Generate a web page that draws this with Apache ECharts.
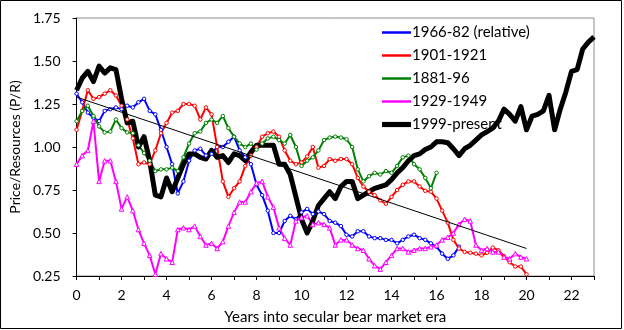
<!DOCTYPE html>
<html>
<head>
<meta charset="utf-8">
<script src="https://cdn.jsdelivr.net/npm/echarts@6/dist/echarts.min.js"></script>
<style>
html,body{margin:0;padding:0;background:#fff;}
#c{width:624px;height:330px;}
</style>
</head>
<body>
<div id="c"></div>
<script>
// Years into era (quarterly steps)
const STEP = 0.25;

const blue1966 = [1.31,1.26,1.20,1.17,1.15,1.21,1.22,1.23,1.22,1.24,1.23,1.26,1.28,1.21,1.19,1.10,
  1.00,0.90,0.73,0.80,0.92,0.98,0.99,0.95,0.96,1.00,1.00,1.03,1.06,0.98,0.94,0.90,
  0.78,0.72,0.63,0.50,0.50,0.57,0.60,0.58,0.62,0.64,0.61,0.625,0.61,0.57,0.56,0.54,
  0.49,0.48,0.51,0.51,0.48,0.47,0.47,0.46,0.46,0.44,0.46,0.48,0.49,0.47,0.46,0.44,
  0.42,0.38,0.35,0.37,0.42];

const red1901 = [1.10,1.21,1.33,1.28,1.29,1.31,1.33,1.30,1.24,1.16,1.05,0.90,0.91,0.90,0.98,1.08,
  1.14,1.20,1.21,1.25,1.25,1.24,1.16,1.23,1.19,1.00,0.80,0.71,0.76,0.80,0.89,0.95,
  1.00,1.06,1.08,1.09,1.06,0.98,0.92,0.90,0.91,0.945,1.00,0.88,0.89,0.93,0.92,0.93,
  0.93,0.90,0.82,0.77,0.74,0.72,0.69,0.67,0.71,0.75,0.78,0.80,0.80,0.77,0.745,0.74,
  0.70,0.63,0.56,0.46,0.41,0.39,0.385,0.38,0.37,0.385,0.415,0.40,0.365,0.33,0.305,0.305,0.26];

const green1881 = [1.15,1.21,1.24,1.18,1.12,1.085,1.09,1.16,1.11,1.085,1.08,1.01,0.965,0.92,0.86,0.87,
  0.87,0.88,0.86,0.94,1.02,1.08,1.09,1.14,1.16,1.14,1.18,1.11,1.06,1.02,1.00,1.02,
  0.985,1.02,1.05,1.06,1.04,1.02,1.07,1.00,0.89,0.92,0.94,0.98,1.04,1.055,1.06,1.055,
  1.045,1.00,0.87,0.80,0.83,0.85,0.84,0.86,0.85,0.89,0.94,0.95,0.90,0.87,0.82,0.76,0.85];

const magenta1929 = [0.90,0.95,0.98,1.15,0.80,0.92,0.92,0.80,0.64,0.71,0.63,0.52,0.44,0.37,0.26,0.38,
  0.35,0.33,0.52,0.53,0.52,0.54,0.48,0.43,0.44,0.41,0.45,0.54,0.62,0.68,0.68,0.74,
  0.79,0.80,0.71,0.65,0.53,0.47,0.43,0.57,0.59,0.60,0.55,0.56,0.55,0.53,0.43,0.46,
  0.46,0.43,0.41,0.40,0.35,0.31,0.29,0.33,0.37,0.41,0.41,0.39,0.40,0.41,0.41,0.42,
  0.43,0.46,0.475,0.50,0.55,0.58,0.57,0.43,0.40,0.41,0.39,0.39,0.36,0.35,0.38,0.36,0.35];

const black1999 = [1.33,1.40,1.44,1.38,1.47,1.43,1.46,1.45,1.28,1.14,1.15,1.00,1.06,0.92,0.72,0.71,
  0.82,0.74,0.82,0.90,0.96,0.96,0.94,0.93,0.98,0.94,0.95,0.91,0.96,0.95,0.92,0.97,
  1.01,1.01,1.01,1.01,0.90,0.90,0.84,0.71,0.58,0.50,0.57,0.66,0.70,0.74,0.70,0.77,
  0.80,0.80,0.70,0.72,0.74,0.76,0.77,0.78,0.81,0.85,0.88,0.92,0.95,0.96,0.985,1.00,
  1.03,1.03,1.025,0.99,0.95,0.99,1.01,1.04,1.07,1.09,1.11,1.15,1.22,1.19,1.15,1.235,
  1.10,1.18,1.19,1.21,1.30,1.10,1.22,1.32,1.44,1.45,1.57,1.61,1.64];

const trendYears = [0, 20];
const trendValues = [1.29, 0.41];

const xTicks = [0,2,4,6,8,10,12,14,16,18,20,22];
const yTicks = [0.25,0.50,0.75,1.00,1.25,1.50,1.75];

function pairs(vals){ return vals.map((v,i)=>[+(i*STEP).toFixed(2), v]); }

const FONT = 'Lato, "Open Sans", sans-serif';

const chart = echarts.init(document.getElementById('c'), null, {renderer:'canvas'});
const mk = (name, data, color, symbol, size) => ({
  name, type:'line', data: pairs(data), symbol, symbolSize:size, showSymbol:true,
  lineStyle:{color, width:2}, itemStyle:{color:'#fff', borderColor:color, borderWidth:1},
  emphasis:{disabled:true}
});
const thinIcon = 'path://M0,5h28v2.4h-28z';
const thickIcon = 'path://M0,3.5h28v5h-28z';
const legItem = (name, color, icon) => ({name, icon, itemStyle:{color, borderWidth:0}});

chart.setOption({
  animation:false,
  backgroundColor:'#fff',
  grid:{left:72, top:18, right:30, bottom:53, show:true, borderColor:'#8c8c8c', borderWidth:1},
  legend:{
    orient:'vertical', left:377, top:20, itemWidth:29, itemHeight:12, itemGap:8,
    textStyle:{fontFamily:FONT, fontSize:15, color:'#000', padding:[0,0,0,-4]},
    data:[legItem('1966-82 (relative)','#0000ff',thinIcon), legItem('1901-1921','#ff0000',thinIcon),
          legItem('1881-96','#008000',thinIcon), legItem('1929-1949','#ff00ff',thinIcon),
          legItem('1999-present','#000000',thickIcon)]
  },
  xAxis:{
    type:'value', min:0, max:23, interval:1,
    name:'Years into secular bear market era', nameLocation:'middle', nameGap:34,
    nameTextStyle:{fontFamily:FONT, fontSize:15, color:'#000'},
    axisLine:{show:true, lineStyle:{color:'#000', width:1}},
    axisTick:{show:true, inside:false, length:4, lineStyle:{color:'#000'}},
    axisLabel:{fontFamily:FONT, fontSize:14, color:'#000', margin:12,
      formatter:v=> xTicks.indexOf(v)>=0 ? String(v) : ''},
    splitLine:{show:false}
  },
  yAxis:{
    type:'value', min:0.25, max:1.75, interval:0.25,
    name:'Price/Resources (P/R)', nameLocation:'middle', nameGap:50,
    nameTextStyle:{fontFamily:FONT, fontSize:14, color:'#000'},
    axisLine:{show:true, lineStyle:{color:'#000', width:1}},
    axisTick:{show:true, length:4, lineStyle:{color:'#000'}},
    axisLabel:{fontFamily:FONT, fontSize:14, color:'#000', margin:16,
      formatter:v=> yTicks.some(t=>Math.abs(t-v)<1e-6) ? v.toFixed(2) : ''},
    splitLine:{show:false}
  },
  graphic:[{type:'rect', shape:{x:0.5,y:0.5,width:621,height:328}, style:{fill:'none', stroke:'#000', lineWidth:1}, silent:true}],
  series:[
    mk('1966-82 (relative)', blue1966, '#0000ff', 'circle', 3.5),
    mk('1901-1921', red1901, '#ff0000', 'circle', 3.5),
    mk('1881-96', green1881, '#008000', 'circle', 3.5),
    mk('1929-1949', magenta1929, '#ff00ff', 'triangle', 4.5),
    {name:'1999-present', type:'line', data:pairs(black1999), symbol:'none', showSymbol:false,
      lineStyle:{color:'#000', width:5, join:'round'}, itemStyle:{color:'#000'}, emphasis:{disabled:true}},
    {name:'trend', type:'line', data: trendYears.map((x,i)=>[x,trendValues[i]]), symbol:'none',
      lineStyle:{color:'#000', width:1}, itemStyle:{color:'#000'}, emphasis:{disabled:true}, z:5}
  ]
});
</script>
</body>
</html>
